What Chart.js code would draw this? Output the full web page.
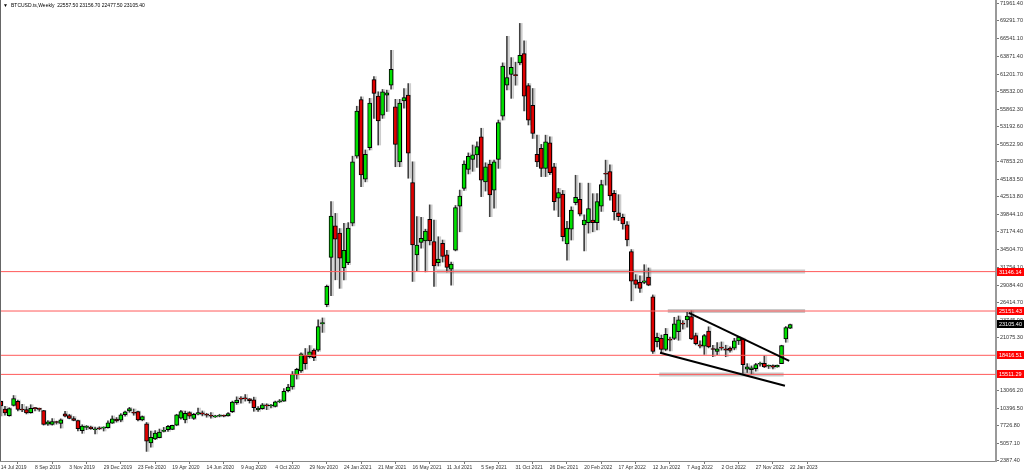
<!DOCTYPE html>
<html>
<head>
<meta charset="utf-8">
<script src="https://cdn.jsdelivr.net/npm/chart.js@4.4.1/dist/chart.umd.min.js"></script>
<style>
  html, body { margin: 0; padding: 0; background: #fff; }
  #wrap { position: relative; width: 1024px; height: 475px; }
</style>
</head>
<body>
<div id="wrap"><canvas id="btcChart" width="1024" height="475"></canvas></div>
<script>
// BTCUSD.ts weekly candles, index 0 = week of 14 Jul 2019, last = 22 Jan 2023
const opens = [
  11400,10250,9250,10800,11400,10250,10150,9700,10450,10300,10000,7950,7900,8300,8050,9500,9250,8800,8500,6950,
  7450,7500,7100,7300,7350,7400,8100,8700,8550,9400,9950,9700,9850,8600,8000,5100,5700,5900,6850,7100,
  7150,7800,8850,8600,9700,8800,9450,9650,9350,9300,9050,9150,9250,9200,9850,11200,11900,11850,11800,11650,
  10150,10300,10900,10700,10650,11350,11450,13050,13600,15450,16050,18400,18200,19200,19200,23200,26100,33300,38100,37000,
  31700,32500,38500,48700,57300,45200,50000,60350,57850,54950,58000,59500,56200,47850,57100,58000,44700,33700,35600,35800,
  39100,35700,32500,35450,33700,31500,34400,41100,43800,46700,48200,48900,51650,44800,47500,43550,48200,54800,59500,61150,
  61000,62900,64300,59450,56450,49000,49900,46850,50750,47100,42300,42950,35350,37600,41650,42150,38250,38600,39000,38600,
  41100,46000,46350,43050,40100,39400,38250,34200,29900,29500,29500,30300,27300,20500,21000,19300,20900,21000,22000,23300,
  23800,24300,21400,20000,19800,22100,19400,19000,19600,19400,19500,19500,20600,20900,16300,16250,16400,17050,17200,16750,
  16850,16650,17150,20900,22557.5
];
const highs = [
  11450,10650,10450,12300,11600,10950,10600,10900,10500,10400,10050,8500,8800,8400,8750,9900,9450,9100,8550,7850,
  7750,7650,7500,7550,7550,8450,9200,8950,9550,9950,10500,10250,9950,9200,8200,6900,6950,7200,7450,7750,
  7800,9450,10050,9950,9850,9600,10400,9950,9600,9700,9300,9450,9350,9700,11450,12100,12150,12450,11850,12050,
  10600,11100,11050,10950,11450,11700,13350,14000,15950,16450,18800,19450,19900,19400,23800,24100,29100,41800,40000,37700,
  38500,38600,48700,56300,57750,49650,57500,60800,58500,58850,58750,64800,57350,57350,59000,59750,47850,39500,39400,37600,
  41300,39000,36450,35950,34400,32600,41200,43550,48000,49200,50400,50900,52950,47700,48100,48100,54200,62900,66950,63700,
  63000,68900,66250,59750,59000,51900,50500,51900,51650,47600,43800,43500,38800,41000,45800,44600,39800,44600,43000,43000,
  45050,48100,47400,43500,42850,39900,38750,34500,30700,30500,32200,31700,27600,21800,21500,22500,21200,24200,24400,23700,
  24950,25200,21800,20600,21600,22750,19950,20350,20450,19950,19700,21000,21300,21050,17150,16800,17200,17400,18350,16950,
  16950,16950,19950,22800,23156.7
];
const lows = [
  9200,9300,9150,10700,9950,9850,9500,9600,9950,9900,7800,7750,7800,7950,7350,9050,8750,8450,6900,6550,
  7100,7150,6450,7100,6900,7350,8050,8250,8300,9150,9750,9300,8450,8450,3800,4450,5600,5850,6750,6850,
  7100,7700,8700,8150,8800,8650,9350,9200,9000,8850,8950,9050,9050,9150,9700,10950,11150,11450,11150,9900,
  9900,10200,10150,10400,10550,11200,11400,12850,13250,14800,15800,16300,18000,17600,19000,21900,25800,27500,29900,28600,
  29900,32200,38100,48400,44050,44800,49650,54450,50400,54450,55500,58900,47100,47100,56000,45350,29650,31300,34700,31100,
  35200,28900,32000,32600,31100,29100,34300,37200,43500,46000,46400,47000,42550,43400,39500,40800,46850,54200,58800,57500,
  59500,62600,55600,53450,51400,47100,45600,45600,45900,40500,39500,35800,32900,35950,41300,39600,34300,37000,37200,37500,
  40300,44300,42000,39000,38900,37600,35050,26700,28650,28000,29300,29000,18700,19700,18700,19100,19100,20800,20700,22400,
  22700,20800,20000,19550,18550,19550,18200,18500,19200,18200,18900,19250,20050,15650,15800,15500,16000,16750,16550,16400,
  16350,16600,17150,20400,22477.5
];
const closes = [
  10700,9650,10300,11850,10200,10100,9650,10350,10300,10200,7900,8300,8350,8200,8600,9150,8800,8500,7250,7650,
  7500,7250,7150,7250,7350,8150,8750,8450,9350,9800,10300,9600,8600,9100,5350,5950,6600,6750,6850,7600,
  7750,9350,9850,9600,9150,9450,9700,9450,9300,9150,9100,9250,9150,9550,11300,11600,11750,11800,11500,10450,
  10350,10900,10700,10750,11350,11450,12950,13600,15550,16300,18650,17150,18950,18050,22800,23400,28900,39600,36100,33200,
  34400,37750,47850,55550,45850,49000,56800,58250,54050,58500,58350,61900,50500,56800,57600,49150,35200,35200,36200,37300,
  35800,32000,33050,33450,31800,32300,40900,42650,47500,48700,48900,50150,45050,47100,42800,47850,53800,62400,60650,62200,
  60950,64050,57850,54200,52150,47850,46850,50900,46200,41800,43150,36450,37750,40500,42450,39900,38990,40750,38600,41800,
  44400,45950,42650,40250,39500,38400,35950,29700,29200,28600,29750,29100,19000,21150,19300,21600,20700,23200,23800,23150,
  24400,20900,20200,19800,21400,19700,19300,19400,19500,19200,19150,20600,21200,17000,16650,16500,17000,17150,16650,16800,
  16600,16900,19900,22650,23105.4
];

// bottom axis labels, one every 8 weeks from index 0
const xTickLabels = [
  '14 Jul 2019','8 Sep 2019','3 Nov 2019','29 Dec 2019','23 Feb 2020','19 Apr 2020','14 Jun 2020','9 Aug 2020',
  '4 Oct 2020','29 Nov 2020','24 Jan 2021','21 Mar 2021','16 May 2021','11 Jul 2021','5 Sep 2021','31 Oct 2021',
  '26 Dec 2021','20 Feb 2022','17 Apr 2022','12 Jun 2022','7 Aug 2022','2 Oct 2022','27 Nov 2022','22 Jan 2023'
];
const yTickLabels = [
  '71961.40','69291.70','66541.10','63871.40','61201.70','58532.00','55862.30','53192.60','50522.90',
  '47853.20','45183.50','42513.80','39844.10','37174.40','34504.70','31754.10','29084.40','26414.70',
  '23745.00','21075.30','18405.60','15735.90','13066.20','10396.50','7726.80','5057.10','2387.40'
];

// horizontal levels (red lines with price tags)
const levels = [31146.14, 25151.43, 18416.51, 15511.29];
// grey zones: [fromWeek, toWeek, price]
const zones = [[101.7, 187.5, 31146.14], [155.5, 187.5, 25151.43], [153.5, 182.5, 15511.29]];
// wedge trendlines: [weekA, priceA, weekB, priceB]
const trendUpper = [160.4, 24870, 183.8, 17580];
const trendLower = [153.7, 18800, 182.8, 13780];

const X_MIN = -0.16, X_MAX = 232.0;
const Y_MIN = 2340, Y_MAX = 72460;

const GREEN = '#00e000', RED = '#e00000';

const datasets = [];

zones.forEach(z => datasets.push({
  type: 'line', data: [{x: z[0], y: z[2]}, {x: z[1], y: z[2]}],
  borderColor: 'rgba(150,150,150,0.5)', borderWidth: 4, pointRadius: 0, order: 5
}));

datasets.push({
  type: 'bar', label: 'wick',
  data: opens.map((o, i) => ({x: i, y: [lows[i], highs[i]]})),
  backgroundColor: '#404040', barThickness: 1, grouped: false, order: 4
});
datasets.push({
  type: 'bar', label: 'body',
  data: opens.map((o, i) => ({x: i, y: [Math.min(o, closes[i]), Math.max(o, closes[i])]})),
  backgroundColor: opens.map((o, i) => closes[i] >= o ? GREEN : RED),
  borderColor: '#000', borderWidth: 1, borderSkipped: false,
  barThickness: 4, minBarLength: 1, grouped: false, order: 3
});

levels.forEach(v => datasets.push({
  type: 'line', data: [{x: X_MIN - 1, y: v}, {x: X_MAX + 1, y: v}],
  borderColor: '#ff5a5a', borderWidth: 1, pointRadius: 0, order: 2
}));

[trendUpper, trendLower].forEach(t => datasets.push({
  type: 'line', data: [{x: t[0], y: t[1]}, {x: t[2], y: t[3]}],
  borderColor: '#000', borderWidth: 2, pointRadius: 0, order: 1
}));

const candleShadow = {
  id: 'candleShadow',
  beforeDatasetDraw(chart, args) {
    if (args.meta.type !== 'bar') return;
    const ctx = chart.ctx;
    ctx.save();
    ctx.shadowColor = 'rgba(0,0,0,0.2)';
    ctx.shadowOffsetX = 2;
    ctx.shadowOffsetY = 0;
    ctx.shadowBlur = 0;
  },
  afterDatasetDraw(chart, args) {
    if (args.meta.type !== 'bar') return;
    chart.ctx.restore();
  }
};

const priceTags = {
  id: 'priceTags',
  afterDraw(chart) {
    const ctx = chart.ctx;
    const y = chart.scales.y;
    const area = chart.chartArea;
    ctx.save();
    ctx.font = '5.5px "Liberation Sans"';
    ctx.textBaseline = 'middle';
    ctx.textAlign = 'left';
    const tag = (v, bg) => {
      const py = Math.round(y.getPixelForValue(v));
      ctx.fillStyle = bg;
      ctx.fillRect(area.right + 1, py - 4, 1024 - area.right - 1, 8);
      ctx.fillStyle = '#fff';
      ctx.fillText(v.toFixed(2), area.right + 3, py + 0.5);
    };
    levels.forEach(v => tag(v, '#ff0000'));
    tag(closes[closes.length - 1], '#000');

    // header line
    const last = closes.length - 1;
    ctx.fillStyle = '#000';
    ctx.font = '5px "Liberation Sans"';
    ctx.fillText('\u25BC', 3, 5.5);
    ctx.fillText('BTCUSD.ts,Weekly  ' + [opens[last], highs[last], lows[last], closes[last]].map(v => v.toFixed(2)).join(' '), 11, 5.5);

    // left frame line
    ctx.strokeStyle = '#666';
    ctx.lineWidth = 1;
    ctx.beginPath();
    ctx.moveTo(area.left + 0.5, area.top);
    ctx.lineTo(area.left + 0.5, area.bottom);
    ctx.stroke();
    ctx.restore();
  }
};

new Chart(document.getElementById('btcChart').getContext('2d'), {
  type: 'bar',
  data: { datasets: datasets },
  options: {
    responsive: false,
    animation: false,
    devicePixelRatio: 1,
    layout: { padding: 0 },
    plugins: { legend: { display: false }, tooltip: { enabled: false } },
    scales: {
      x: {
        type: 'linear', min: X_MIN, max: X_MAX, offset: false,
        afterFit: s => { s.height = 14; s.paddingLeft = 0; s.paddingRight = 0; },
        afterBuildTicks: s => { s.ticks = xTickLabels.map((_, k) => ({value: k * 8})); },
        ticks: {
          callback: (v, i) => xTickLabels[i],
          autoSkip: false, maxRotation: 0, minRotation: 0, align: 'start', padding: 1,
          color: '#333', font: { family: 'Liberation Sans', size: 5 }
        },
        grid: { drawOnChartArea: false, drawTicks: true, tickLength: 3, color: '#777' },
        border: { color: '#888' }
      },
      y: {
        position: 'right', min: Y_MIN, max: Y_MAX,
        afterFit: s => { s.width = 28; s.paddingTop = 0; s.paddingBottom = 0; },
        afterBuildTicks: s => { s.ticks = yTickLabels.map(t => ({value: parseFloat(t)})); },
        ticks: {
          callback: (v, i) => yTickLabels[i],
          autoSkip: false, padding: 1,
          color: '#333', font: { family: 'Liberation Sans', size: 5.5 }
        },
        grid: { drawOnChartArea: false, drawTicks: true, tickLength: 3, color: '#777' },
        border: { color: '#999', width: 2 }
      }
    }
  },
  plugins: [candleShadow, priceTags]
});
</script>
</body>
</html>
